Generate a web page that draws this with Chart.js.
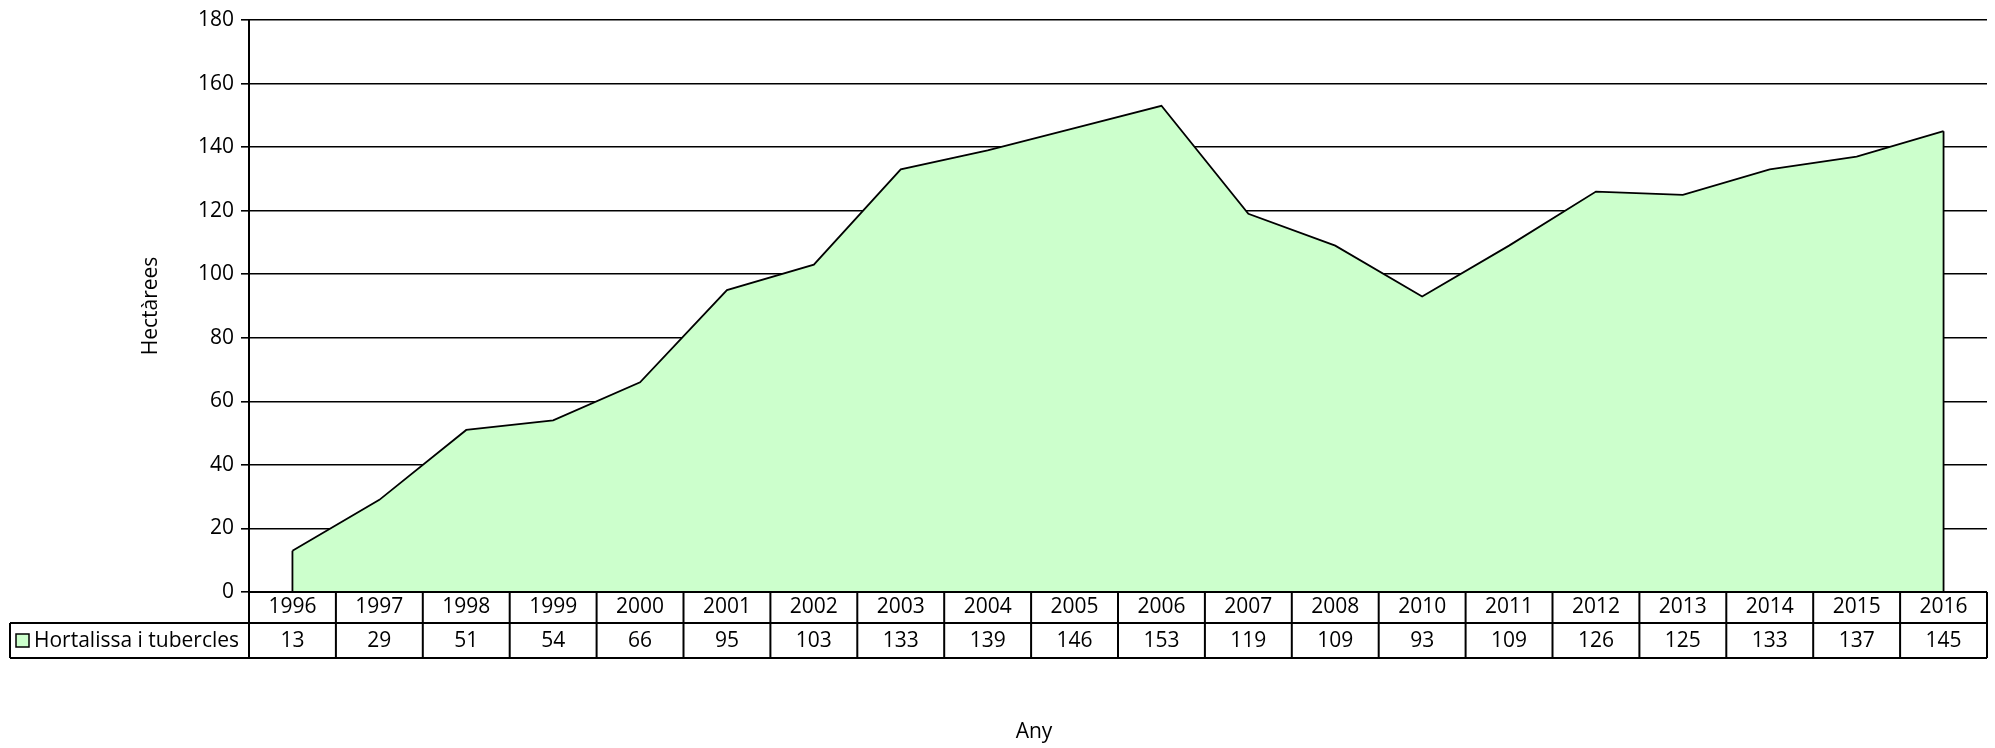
<!DOCTYPE html>
<html>
<head>
<meta charset="utf-8">
<script src="https://cdn.jsdelivr.net/npm/chart.js@4/dist/chart.umd.min.js"></script>
<style>
  html, body { margin: 0; padding: 0; background: #fff; }
  #wrap { width: 1995px; height: 748px; }
</style>
</head>
<body>
<div id="wrap"><canvas id="grafic" width="1995" height="748"></canvas></div>
<script>
const anys = ['1996', '1997', '1998', '1999', '2000', '2001', '2002', '2003', '2004', '2005',
    '2006', '2007', '2008', '2010', '2011', '2012', '2013', '2014', '2015', '2016'];
const hortalissa = [13, 29, 51, 54, 66, 95, 103, 133, 139, 146,
    153, 119, 109, 93, 109, 126, 125, 133, 137, 145];
const nomSerie = 'Hortalissa i tubercles';
const titolX = 'Any';
const titolY = 'Hectàrees';

const FONT = '"Open Sans", Lato, sans-serif';

// vores verticals als extrems de l'àrea
const voresArea = {
    id: 'voresArea',
    afterDatasetsDraw(chart) {
        const c = chart.ctx;
        const x = chart.scales.x, y = chart.scales.y;
        const last = hortalissa.length - 1;
        c.save();
        c.strokeStyle = '#000';
        c.lineWidth = 1.8;
        c.beginPath();
        [0, last].forEach((i) => {
            const px = x.getPixelForValue(i);
            c.moveTo(px, y.getPixelForValue(hortalissa[i]));
            c.lineTo(px, y.getPixelForValue(0));
        });
        c.stroke();
        c.restore();
    }
};

// taula de dades sota el gràfic
const taulaDades = {
    id: 'taulaDades',
    afterDraw(chart) {
        const c = chart.ctx;
        const x = chart.scales.x;
        const area = chart.chartArea;
        const y0 = area.bottom, y1 = y0 + 31, y2 = y1 + 35;
        const half = (x.getPixelForValue(1) - x.getPixelForValue(0)) / 2;
        const legendLeft = 10;

        c.save();
        c.strokeStyle = '#000';
        c.lineWidth = 2;
        c.beginPath();
        c.moveTo(area.left, y0); c.lineTo(area.right, y0);
        c.moveTo(legendLeft, y1); c.lineTo(area.right, y1);
        c.moveTo(legendLeft, y2); c.lineTo(area.right, y2);
        c.moveTo(legendLeft, y1); c.lineTo(legendLeft, y2);
        anys.forEach((a, i) => {
            const px = x.getPixelForValue(i) - half;
            c.moveTo(px, y0); c.lineTo(px, y2);
        });
        c.moveTo(area.right, y0); c.lineTo(area.right, y2);
        c.stroke();

        // llegenda
        c.fillStyle = '#CCFFCC';
        c.fillRect(legendLeft + 6, y1 + 11, 13, 13);
        c.lineWidth = 1.5;
        c.strokeRect(legendLeft + 6, y1 + 11, 13, 13);
        c.fillStyle = '#000';
        c.font = '21px ' + FONT;
        c.textBaseline = 'middle';
        c.textAlign = 'left';
        c.fillText(nomSerie, legendLeft + 24, (y1 + y2) / 2 + 1, area.left - legendLeft - 28);

        c.textAlign = 'center';
        hortalissa.forEach((v, i) => {
            c.fillText(String(v), x.getPixelForValue(i), (y1 + y2) / 2 + 1);
        });

        // títol de l'eix X
        c.fillText(titolX, 1034, 732);
        c.restore();
    }
};

new Chart(document.getElementById('grafic'), {
    type: 'line',
    data: {
        labels: anys,
        datasets: [{
            label: nomSerie,
            data: hortalissa,
            backgroundColor: '#CCFFCC',
            borderColor: '#000',
            borderWidth: 1.8,
            fill: 'origin',
            pointRadius: 0,
            tension: 0
        }]
    },
    options: {
        responsive: false,
        animation: false,
        layout: { padding: { top: 20, right: 8, left: 0, bottom: 0 } },
        plugins: {
            legend: { display: false },
            tooltip: { enabled: false }
        },
        scales: {
            x: {
                offset: true,
                grid: { display: false, drawTicks: false },
                border: { display: false },
                ticks: {
                    color: '#000',
                    font: { family: FONT, size: 21 },
                    padding: 2,
                    maxRotation: 0,
                    autoSkip: false
                },
                afterFit: (scale) => { scale.height = 156; }
            },
            y: {
                min: 0,
                max: 180,
                ticks: {
                    stepSize: 20,
                    color: '#000',
                    font: { family: FONT, size: 21 },
                    padding: 7
                },
                grid: { color: '#000', lineWidth: 1.6, tickLength: 8 },
                border: { color: '#000', width: 2 },
                title: {
                    display: true,
                    text: titolY,
                    color: '#000',
                    font: { family: FONT, size: 21 },
                    padding: { top: 138, bottom: 0 }
                },
                afterFit: (scale) => { scale.width = 249; }
            }
        }
    },
    plugins: [voresArea, taulaDades]
});
</script>
</body>
</html>
